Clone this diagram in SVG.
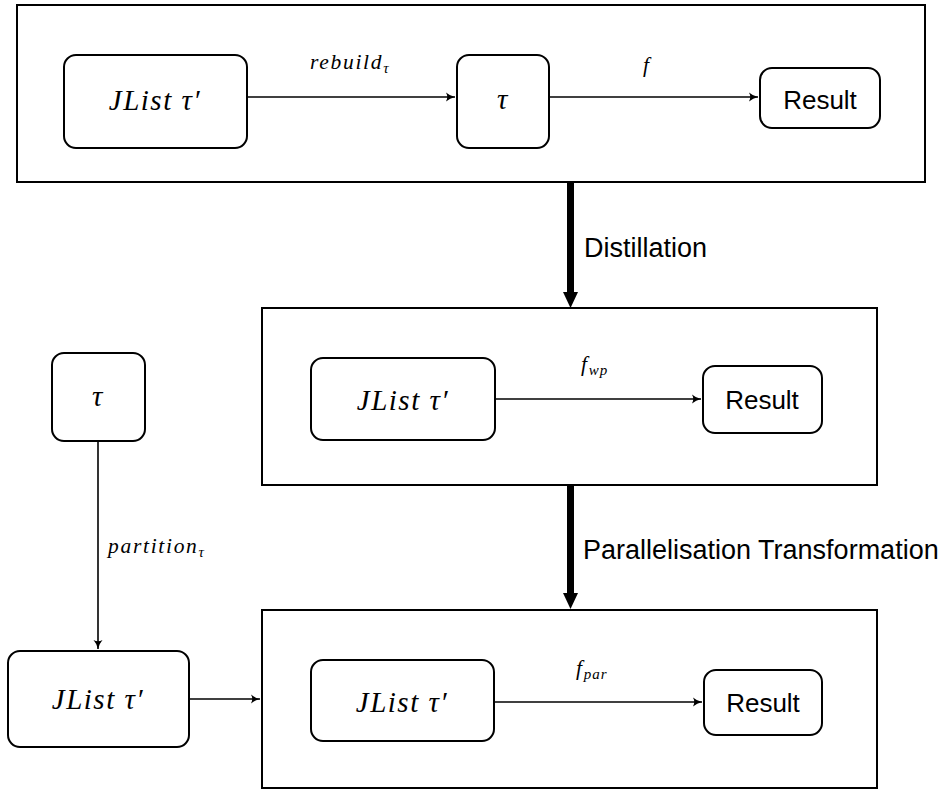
<svg xmlns="http://www.w3.org/2000/svg" width="942" height="789" viewBox="0 0 942 789">
  <style>
    .frame { fill: #fff; stroke: #000; stroke-width: 2; }
    .node { fill: #fff; stroke: #000; stroke-width: 2; }
    .edge { fill: none; stroke: #000; stroke-width: 1.6; }
    .math { font-family: "Liberation Serif", "DejaVu Serif", serif; font-style: italic; fill: #000; }
    .sans { font-family: "Liberation Sans", "DejaVu Sans", sans-serif; fill: #000; }
    .big { font-size: 29px; letter-spacing: 1.5px; }
    .lbl { font-size: 21.5px; letter-spacing: 1.7px; }
    .sub { font-size: 15px; letter-spacing: 1px; }
    .res { font-size: 26px; }
    .step { font-size: 27px; }
  </style>
  <defs>
    <marker id="arrow" viewBox="0 0 12 12" refX="10" refY="6" markerWidth="12" markerHeight="12" markerUnits="userSpaceOnUse" orient="auto">
      <path d="M1,1.5 Q5,5 10,6 Q5,7 1,10.5 Q3.5,6 1,1.5 Z" fill="#000"/>
    </marker>
  </defs>

  <rect width="942" height="789" fill="#fff"/>

  <!-- stage frames -->
  <rect id="stage-original" class="frame" x="17" y="5" width="908" height="177"/>
  <rect id="stage-distilled" class="frame" x="262" y="308" width="615" height="177"/>
  <rect id="stage-parallel" class="frame" x="262" y="610" width="615" height="178"/>

  <!-- original program -->
  <g id="n-jlist-1">
    <rect class="node" x="64" y="55" width="183" height="93" rx="12"/>
    <text class="math big" x="155" y="110" text-anchor="middle">JList τ′</text>
  </g>
  <g id="n-tau-1">
    <rect class="node" x="457" y="55" width="92" height="93" rx="12"/>
    <text class="math big" x="503" y="109" text-anchor="middle">τ</text>
  </g>
  <g id="n-result-1">
    <rect class="node" x="760" y="68" width="120" height="60" rx="12"/>
    <text class="sans res" x="820" y="109" text-anchor="middle">Result</text>
  </g>

  <!-- distilled program -->
  <g id="n-jlist-2">
    <rect class="node" x="311" y="358" width="184" height="82" rx="12"/>
    <text class="math big" x="403" y="410" text-anchor="middle">JList τ′</text>
  </g>
  <g id="n-result-2">
    <rect class="node" x="703" y="366" width="119" height="67" rx="12"/>
    <text class="sans res" x="762" y="409" text-anchor="middle">Result</text>
  </g>

  <!-- partitioning input -->
  <g id="n-tau-2">
    <rect class="node" x="52" y="353" width="93" height="88" rx="12"/>
    <text class="math big" x="98" y="406" text-anchor="middle">τ</text>
  </g>
  <g id="n-jlist-3">
    <rect class="node" x="8" y="651" width="181" height="96" rx="12"/>
    <text class="math big" x="98" y="709" text-anchor="middle">JList τ′</text>
  </g>

  <!-- parallel program -->
  <g id="n-jlist-4">
    <rect class="node" x="311" y="660" width="183" height="81" rx="12"/>
    <text class="math big" x="402" y="712" text-anchor="middle">JList τ′</text>
  </g>
  <g id="n-result-3">
    <rect class="node" x="704" y="670" width="118" height="65" rx="12"/>
    <text class="sans res" x="763" y="712" text-anchor="middle">Result</text>
  </g>

  <!-- connectors -->
  <g id="connectors">
    <line class="edge" x1="247" y1="97" x2="455" y2="97" marker-end="url(#arrow)"/>
    <text class="math lbl" x="310" y="69">rebuild<tspan class="sub" dy="4">τ</tspan></text>

    <line class="edge" x1="549" y1="97" x2="758" y2="97" marker-end="url(#arrow)"/>
    <text class="math lbl" x="643" y="72">f</text>

    <line class="edge" x1="495" y1="399" x2="701" y2="399" marker-end="url(#arrow)"/>
    <text class="math lbl" x="581" y="371">f<tspan class="sub" dy="4">wp</tspan></text>

    <line class="edge" x1="98" y1="441" x2="98" y2="649" marker-end="url(#arrow)"/>
    <text class="math lbl" x="108" y="553">partition<tspan class="sub" dy="4">τ</tspan></text>

    <line class="edge" x1="189" y1="699" x2="260" y2="699" marker-end="url(#arrow)"/>

    <line class="edge" x1="494" y1="702" x2="702" y2="702" marker-end="url(#arrow)"/>
    <text class="math lbl" x="576" y="675">f<tspan class="sub" dy="4">par</tspan></text>

    <!-- transformation steps -->
    <rect x="567" y="183" width="7" height="110" fill="#000"/>
    <path d="M563,292 L578,292 L570.5,308 Z" fill="#000"/>
    <text class="sans step" x="584" y="257">Distillation</text>

    <rect x="567" y="486" width="7" height="108" fill="#000"/>
    <path d="M563,593 L578,593 L570.5,609 Z" fill="#000"/>
    <text class="sans step" x="583" y="559">Parallelisation Transformation</text>
  </g>
</svg>
